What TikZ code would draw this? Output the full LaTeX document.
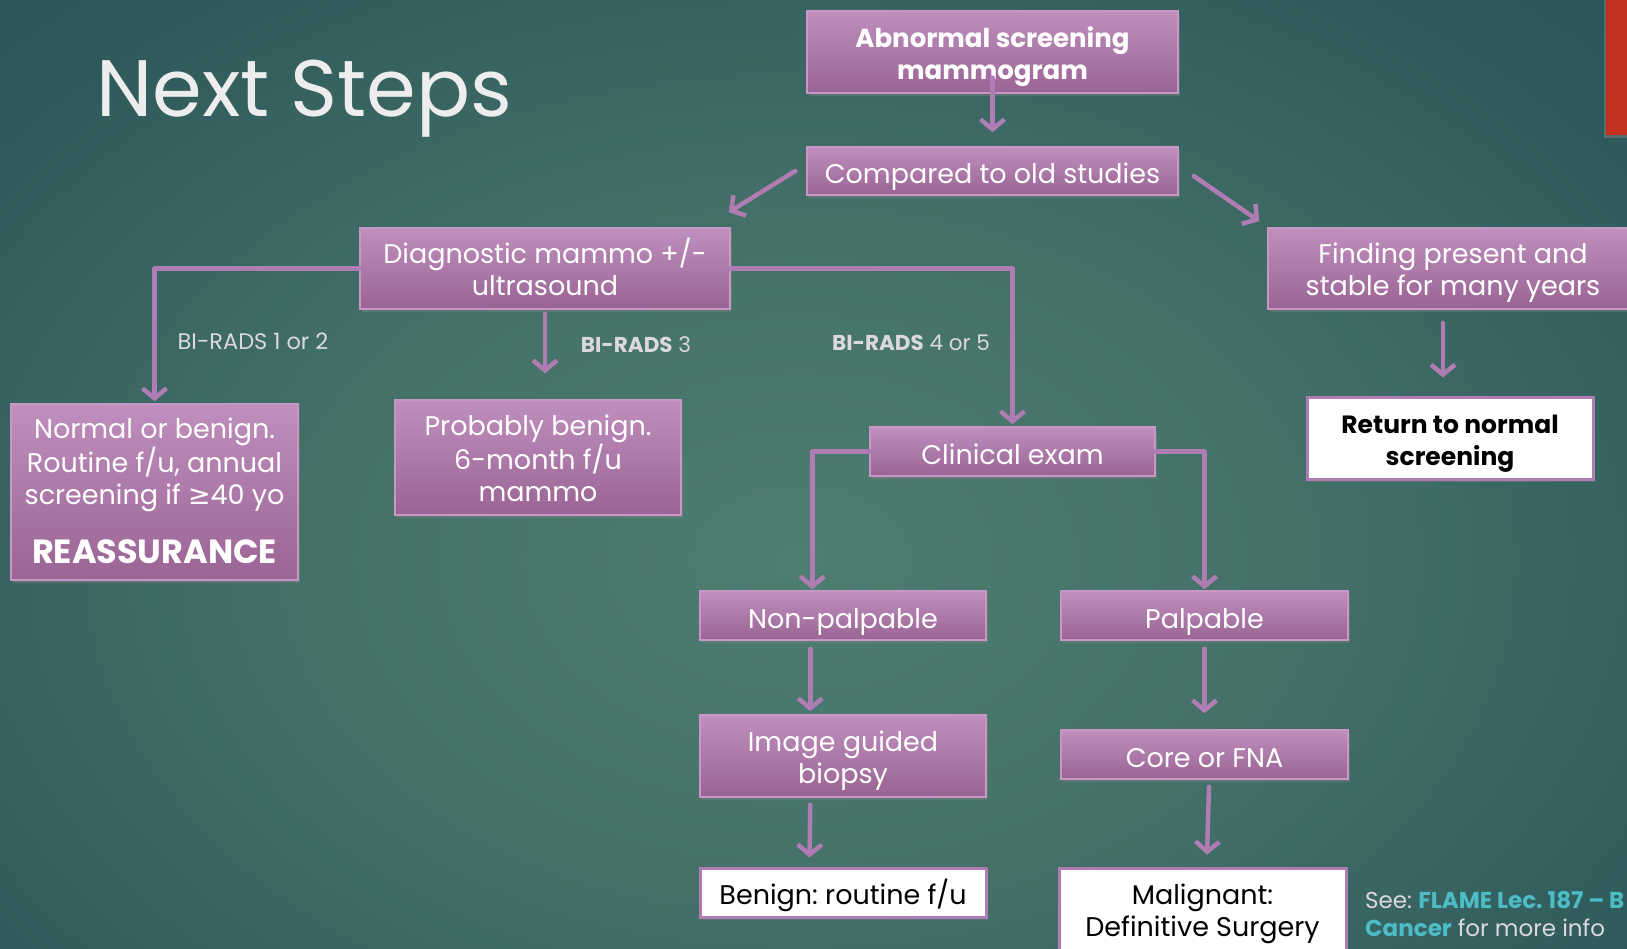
\documentclass[tikz,border=0pt]{standalone}
\usepackage{fontspec}
\setmainfont{Poppins}
\newfontfamily\symf{DejaVu Sans}
\usetikzlibrary{arrows.meta,shadows}
\definecolor{bgA}{HTML}{4E7D72}
\definecolor{bgB}{HTML}{437168}
\definecolor{bgC}{HTML}{2F5A5C}
\definecolor{bgD}{HTML}{244853}
\definecolor{bgE}{HTML}{1B3744}
\definecolor{boxtop}{HTML}{BF8FBD}
\definecolor{boxbot}{HTML}{9A6494}
\definecolor{boxedge}{HTML}{C897C6}
\definecolor{arrowc}{HTML}{B07CB4}
\definecolor{labelc}{HTML}{DCD8DE}
\definecolor{titlec}{HTML}{EDEDED}
\definecolor{redbar}{HTML}{C2301E}
\definecolor{cyanc}{HTML}{4CBCC6}
\pgfdeclareradialshading{slidebg}{\pgfpoint{0bp}{0bp}}{color(0bp)=(bgA); color(14bp)=(bgB); color(28bp)=(bgC); color(44bp)=(bgD); color(70bp)=(bgE)}
\newcommand\boxstrut{\rule[-7pt]{0pt}{39pt}}
\newcommand\fs{\rule{0pt}{30pt}}
\newcommand\ls{\rule[-8pt]{0pt}{8pt}}
\tikzset{
  box/.style={draw=boxedge, line width=1.5pt, top color=boxtop, bottom color=boxbot,
    text=white, align=center, inner sep=0pt,
    drop shadow={opacity=0.45, shadow xshift=2pt, shadow yshift=-3pt},
    font=\fontsize{27}{32}\selectfont},
  wbox/.style={draw=arrowc, line width=3pt, fill=white, text=black, align=center,
    inner sep=0pt, drop shadow={opacity=0.35, shadow xshift=2pt, shadow yshift=-3pt},
    font=\fontsize{27}{32}\selectfont},
  one/.style={execute at begin node=\boxstrut},
  conn/.style={draw=arrowc, line width=4.5pt, line cap=round, line join=round,
    -{Straight Barb[length=10pt, width=24pt]}},
  lbl/.style={text=labelc, font=\fontsize{21.5}{24}\selectfont, inner sep=0pt},
}
\begin{document}
\frenchspacing
\begin{tikzpicture}[x=1pt, y=-1pt]
\useasboundingbox (0,0) rectangle (1627,948);
\begin{scope}
\clip (0,0) rectangle (1627,948);
\shade[shading=slidebg] (-100,-50) rectangle (1700,1170);
\fill[redbar, drop shadow={opacity=0.5, shadow xshift=-2pt, shadow yshift=-3pt}] (1606,-5) rectangle (1632,135);
% title
\node[anchor=west, text=titlec, inner sep=0pt, font=\fontsize{80}{82}\selectfont] (title) at (96,99) {Next Steps};
% nodes
\node[box, font=\fontsize{26}{32}\bfseries, minimum width=371pt, minimum height=82pt] (abn) at (992.5,52) {\fs Abnormal screening\\mammogram\ls};
\node[box, one, minimum width=371pt, minimum height=48pt] (cmp) at (992.5,171) {Compared to old studies};
\node[box, minimum width=370pt, minimum height=81pt] (diag) at (545,268.5) {\fs Diagnostic mammo +/-\\ultrasound\ls};
\node[box, minimum width=370pt, minimum height=81pt] (find) at (1453,268.5) {\fs Finding present and\\stable for many years\ls};
\node[box, minimum width=287pt, minimum height=176pt] (norm) at (154.5,492) {\rule{0pt}{26pt}Normal or benign.\\Routine f/u, annual\\screening if {\symf ≥}40 yo\\[27pt]{\fontsize{33.5}{36}\bfseries REASSURANCE}\ls};
\node[box, minimum width=286pt, minimum height=115pt] (prob) at (538,457.5) {\fs Probably benign.\\6-month f/u\\mammo\ls};
\node[box, one, minimum width=285pt, minimum height=49pt] (clin) at (1012.5,451.5) {Clinical exam};
\node[wbox, font=\fontsize{25}{32}\bfseries, minimum width=286pt, minimum height=82pt] (ret) at (1450,438) {\fs Return to normal\\screening\ls};
\node[box, one, minimum width=286pt, minimum height=49pt] (nonp) at (843,615.5) {Non-palpable};
\node[box, one, minimum width=287pt, minimum height=49pt] (palp) at (1204.5,615.5) {Palpable};
\node[box, minimum width=286pt, minimum height=82pt] (img) at (843,756) {\fs Image guided\\biopsy\ls};
\node[box, one, minimum width=287pt, minimum height=49pt] (core) at (1204.5,754.5) {Core or FNA};
\node[wbox, one, minimum width=286pt, minimum height=49pt] (ben) at (843,892.5) {Benign: routine f/u};
\node[wbox, minimum width=287pt, minimum height=82pt] (mal) at (1202.5,909) {\fs Malignant:\\Definitive Surgery\ls};
% labels
\node[lbl, font=\fontsize{22.5}{24}\selectfont] (l12) at (253,341) {BI-RADS 1 or 2};
\node[lbl] (l3) at (636,345) {\textbf{BI-RADS} 3};
\node[lbl] (l45) at (911,343) {\textbf{BI-RADS} 4 or 5};
\node[anchor=north west, text=labelc, inner sep=0pt, align=left, font=\fontsize{23}{28}\selectfont] (see) at (1365,891) {See: \textcolor{cyanc}{\bfseries FLAME Lec. 187 – B}\\\textcolor{cyanc}{\bfseries Cancer} for more info};
% connectors
\draw[conn] ([yshift=16pt]abn.south) -- ([yshift=14pt]cmp.north);
\draw[conn] ([xshift=-11pt]cmp.west) -- ([xshift=-2pt,yshift=15pt]diag.north east);
\draw[conn] ([xshift=15pt,yshift=-5pt]cmp.east) -- ([xshift=-8pt,yshift=6pt]find.north west);
\draw[conn] (diag.west) -| ([yshift=2pt]norm.north);
\draw[conn] ([yshift=-4pt]diag.south) -- ([yshift=26pt]diag.south |- prob.north);
\draw[conn] (diag.east) -| ([yshift=2pt]clin.north);
\draw[conn] (clin.west) -| ([xshift=113pt,yshift=1pt]nonp.north west);
\draw[conn] (clin.east) -| ([yshift=1pt]palp.north);
\draw[conn] ([xshift=-10pt,yshift=-13pt]find.south) -- ([xshift=-7pt,yshift=18pt]ret.north);
\draw[conn] ([xshift=111pt,yshift=-8pt]nonp.south west) -- ([xshift=111pt,yshift=3pt]img.north west);
\draw[conn] ([yshift=-8pt]palp.south) -- ([yshift=16pt]core.north);
\draw[conn] ([xshift=111pt,yshift=-7pt]img.south west) -- ([xshift=111pt,yshift=9pt]ben.north west);
\draw[conn] ([xshift=4.5pt,yshift=-7pt]core.south) -- ([xshift=4.5pt,yshift=12pt]mal.north);
\end{scope}
\end{tikzpicture}
\end{document}
